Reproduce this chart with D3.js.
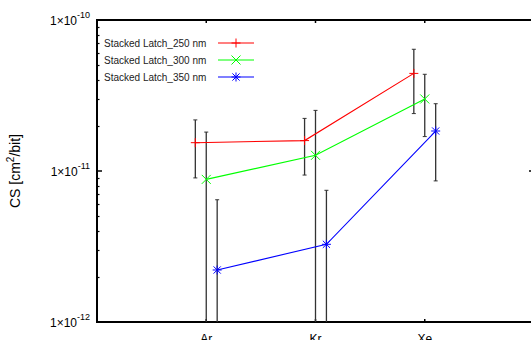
<!DOCTYPE html>
<html>
<head>
<meta charset="utf-8">
<script src="https://cdn.jsdelivr.net/npm/d3@7"></script>
<style>
  body { margin: 0; background: #fff; }
  svg { display: block; font-family: "Liberation Sans", Arial, sans-serif; }
</style>
</head>
<body>
<div id="chart"></div>
<script>
// data
const categories = ['Ar', 'Kr', 'Xe'];
const seriesNames = ['Stacked Latch_250 nm', 'Stacked Latch_300 nm', 'Stacked Latch_350 nm'];
const seriesColors = ['#ff0000', '#00ff00', '#0000ff'];
const seriesMarkers = ['plus', 'cross', 'star'];

const values250 = [1.54e-11, 1.59e-11, 4.43e-11];
const upper250 = [2.18e-11, 2.23e-11, 6.4e-11];
const lower250 = [9.0e-12, 9.4e-12, 2.4e-11];

const values300 = [8.8e-12, 1.27e-11, 3.0e-11];
const upper300 = [1.81e-11, 2.52e-11, 4.37e-11];
const lower300 = [0, 0, 1.69e-11];

const values350 = [2.21e-12, 3.27e-12, 1.84e-11];
const upper350 = [6.45e-12, 7.45e-12, 2.79e-11];
const lower350 = [0, 0, 8.6e-12];

const yTicks = [1e-12, 1e-11, 1e-10];

const series = [
    { values: values250, upper: upper250, lower: lower250, offset: -0.1 },
    { values: values300, upper: upper300, lower: lower300, offset: 0 },
    { values: values350, upper: upper350, lower: lower350, offset: 0.1 },
].map((s, i) => ({ ...s, name: seriesNames[i], color: seriesColors[i], marker: seriesMarkers[i] }));

const width = 531;
const height = 340;
const margins = { top: 20, right: -3, bottom: 18, left: 97 };
const x0 = margins.left;
const x1 = width - margins.right;
const y0 = height - margins.bottom;
const y1 = margins.top;

const x = d3.scaleLinear().domain([0, 4]).range([x0, x1]);
const y = d3.scaleLog().domain([1e-12, 1e-10]).range([y0, y1]);
const yClamp = v => y(Math.min(Math.max(v, 1e-12), 1e-10));

const svg = d3.select('#chart').append('svg')
    .attr('width', width)
    .attr('height', height);

svg.append('defs').append('clipPath').attr('id', 'plot-clip')
    .append('rect').attr('x', x0).attr('y', y1).attr('width', x1 - x0).attr('height', y0 - y1);

// minor log ticks
const minor = [];
[1e-12, 1e-11].forEach(d => { for (let k = 2; k <= 9; k++) minor.push(d * k); });

const frame = svg.append('g');
frame.selectAll('line.minor-l')
    .data(minor)
    .join('line')
    .attr('x1', x0).attr('x2', x0 + 2.5)
    .attr('y1', d => Math.round(y(d)) + 0.5).attr('y2', d => Math.round(y(d)) + 0.5)
    .attr('stroke', '#000').attr('stroke-width', 1.2);
frame.selectAll('line.minor-r')
    .data(minor)
    .join('line')
    .attr('x1', x1).attr('x2', x1 - 2.5)
    .attr('y1', d => Math.round(y(d)) + 0.5).attr('y2', d => Math.round(y(d)) + 0.5)
    .attr('stroke', '#000').attr('stroke-width', 1.2);

// major y ticks
frame.selectAll('line.major-l')
    .data(yTicks)
    .join('line')
    .attr('x1', x0).attr('x2', x0 + 5)
    .attr('y1', d => y(d)).attr('y2', d => y(d))
    .attr('stroke', '#000').attr('stroke-width', 1.5);
frame.selectAll('line.major-r')
    .data(yTicks)
    .join('line')
    .attr('x1', x1).attr('x2', x1 - 5)
    .attr('y1', d => y(d)).attr('y2', d => y(d))
    .attr('stroke', '#000').attr('stroke-width', 1.5);

// x ticks top and bottom
frame.selectAll('line.xt-b')
    .data(categories)
    .join('line')
    .attr('x1', (d, i) => x(i + 1)).attr('x2', (d, i) => x(i + 1))
    .attr('y1', y0).attr('y2', y0 - 3)
    .attr('stroke', '#000').attr('stroke-width', 1.5);
frame.selectAll('line.xt-t')
    .data(categories)
    .join('line')
    .attr('x1', (d, i) => x(i + 1)).attr('x2', (d, i) => x(i + 1))
    .attr('y1', y1).attr('y2', y1 + 3)
    .attr('stroke', '#000').attr('stroke-width', 1.5);

// frame
frame.append('rect')
    .attr('x', x0).attr('y', y1)
    .attr('width', x1 - x0).attr('height', y0 - y1)
    .attr('fill', 'none').attr('stroke', '#000').attr('stroke-width', 2);

// y tick labels: 1x10^n
const yLab = svg.append('g')
    .selectAll('text')
    .data(yTicks)
    .join('text')
    .attr('x', x0 - 7)
    .attr('y', d => y(d) + 5)
    .attr('text-anchor', 'end')
    .attr('font-size', 12)
    .attr('fill', '#000');
yLab.append('tspan').text('1×10');
yLab.append('tspan')
    .attr('font-size', 9)
    .attr('dy', -7)
    .text(d => Math.round(Math.log10(d)));

// x tick labels
svg.append('g')
    .selectAll('text')
    .data(categories)
    .join('text')
    .attr('x', (d, i) => x(i + 1))
    .attr('y', y0 + 21)
    .attr('text-anchor', 'middle')
    .attr('font-size', 12)
    .text(d => d);

// y axis title
const yTitle = svg.append('text')
    .attr('transform', `translate(20, ${(y0 + y1) / 2}) rotate(-90)`)
    .attr('text-anchor', 'middle')
    .attr('font-size', 14);
yTitle.append('tspan').text('CS [cm');
yTitle.append('tspan').attr('font-size', 10).attr('dy', -6).text('2');
yTitle.append('tspan').attr('dy', 6).text('/bit]');

// markers
function marker(g, type, cx, cy, color) {
    const r = 4.5;
    let segs;
    if (type === 'plus') segs = [[-r, 0, r, 0], [0, -r, 0, r]];
    else if (type === 'cross') segs = [[-r, -r, r, r], [-r, r, r, -r]];
    else segs = [[-r, 0, r, 0], [0, -r, 0, r], [-r * 0.8, -r * 0.8, r * 0.8, r * 0.8], [-r * 0.8, r * 0.8, r * 0.8, -r * 0.8]];
    segs.forEach(s => {
        g.append('line')
            .attr('x1', cx + s[0]).attr('y1', cy + s[1])
            .attr('x2', cx + s[2]).attr('y2', cy + s[3])
            .attr('stroke', color).attr('stroke-width', 1);
    });
}

const plot = svg.append('g').attr('clip-path', 'url(#plot-clip)');

// error bars
series.forEach(s => {
    const g = plot.append('g');
    s.values.forEach((v, i) => {
        const cx = x(i + 1 + s.offset);
        const top = yClamp(s.upper[i]);
        const bot = s.lower[i] > 0 ? yClamp(s.lower[i]) : y0 + 5;
        g.append('line')
            .attr('x1', cx).attr('x2', cx).attr('y1', top).attr('y2', bot)
            .attr('stroke', '#333').attr('stroke-width', 1.3);
        g.append('line')
            .attr('x1', cx - 2).attr('x2', cx + 2).attr('y1', top).attr('y2', top)
            .attr('stroke', '#333').attr('stroke-width', 1);
        if (s.lower[i] > 0) {
            g.append('line')
                .attr('x1', cx - 2).attr('x2', cx + 2).attr('y1', bot).attr('y2', bot)
                .attr('stroke', '#333').attr('stroke-width', 1);
        }
    });
});

// lines + markers
const line = d3.line()
    .x(d => x(d.i + 1 + d.offset))
    .y(d => y(d.v));

series.forEach(s => {
    const pts = s.values.map((v, i) => ({ v, i, offset: s.offset }));
    plot.append('path')
        .datum(pts)
        .attr('fill', 'none')
        .attr('stroke', s.color)
        .attr('stroke-width', 1.1)
        .attr('d', line);
    const g = plot.append('g');
    pts.forEach(p => marker(g, s.marker, x(p.i + 1 + p.offset), y(p.v), s.color));
});

// legend
const legend = svg.append('g');
series.forEach((s, i) => {
    const ly = 43 + i * 17;
    legend.append('text')
        .attr('x', 104).attr('y', ly + 3.5)
        .attr('font-size', 10)
        .attr('fill', '#222')
        .text(s.name);
    legend.append('line')
        .attr('x1', 218).attr('x2', 254).attr('y1', ly).attr('y2', ly)
        .attr('stroke', s.color).attr('stroke-width', 1.1);
    marker(legend, s.marker, 236, ly, s.color);
});
</script>
</body>
</html>
